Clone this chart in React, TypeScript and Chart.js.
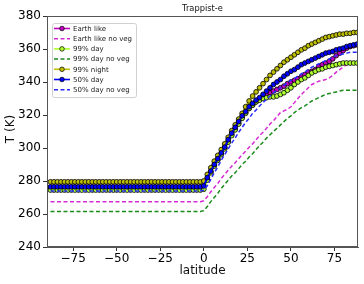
import { useEffect, useRef } from 'react';
import { Chart, registerables } from 'chart.js';

Chart.register(...registerables);

const FONT = "'DejaVu Sans', sans-serif";

const titleText = 'Trappist-e';
const xLabel = 'latitude';
const yLabel = 'T (K)';

const xTickValues = [-75, -50, -25, 0, 25, 50, 75];
const yTickValues = [240, 260, 280, 300, 320, 340, 360, 380];

const latitudes = [
  -88, -86, -84, -82, -80, -78, -76, -74, -72, -70, -68,
  -66, -64, -62, -60, -58, -56, -54, -52, -50, -48, -46,
  -44, -42, -40, -38, -36, -34, -32, -30, -28, -26, -24,
  -22, -20, -18, -16, -14, -12, -10, -8, -6, -4, -2,
  0,
  2, 4, 6, 8, 10, 12, 14, 16, 18, 20, 22,
  24, 26, 28, 30, 32, 34, 36, 38, 40, 42, 44,
  46, 48, 50, 52, 54, 56, 58, 60, 62, 64, 66,
  68, 70, 72, 74, 76, 78, 80, 82, 84, 86, 88,
];

const earthLike = [
  276, 276, 276, 276, 276, 276, 276, 276, 276, 276, 276,
  276, 276, 276, 276, 276, 276, 276, 276, 276, 276, 276,
  276, 276, 276, 276, 276, 276, 276, 276, 276, 276, 276,
  276, 276, 276, 276, 276, 276, 276, 276, 276, 276, 276,
  276.5,
  281, 285.5, 289.5, 293, 296.5, 300, 304, 308, 311.5, 315, 318.5,
  321.5, 324, 326, 328, 329.5, 331, 332.5, 333.5, 334.5, 335.5, 336.5,
  337.5, 339, 340, 341, 342, 343, 344.5, 346, 346.5, 347.5, 349.5,
  350.5, 351.5, 352.5, 354, 356, 357.5, 359, 360.5, 361.5, 362, 362.5,
];

const earthLikeNoVeg = [
  267.5, 267.5, 267.5, 267.5, 267.5, 267.5, 267.5, 267.5, 267.5, 267.5, 267.5,
  267.5, 267.5, 267.5, 267.5, 267.5, 267.5, 267.5, 267.5, 267.5, 267.5, 267.5,
  267.5, 267.5, 267.5, 267.5, 267.5, 267.5, 267.5, 267.5, 267.5, 267.5, 267.5,
  267.5, 267.5, 267.5, 267.5, 267.5, 267.5, 267.5, 267.5, 267.5, 267.5, 267.5,
  268,
  270.5, 273.5, 276, 278.5, 281.5, 284, 286.5, 289, 291, 293.5, 296,
  298, 300.5, 302.5, 305, 307.5, 309.5, 312, 314.5, 316.5, 319, 321.5,
  322.5, 323.5, 325, 327.5, 330, 332.5, 334.5, 336.5, 338.5, 339.5, 340.5,
  341, 341.5, 342.5, 344, 346, 347.5, 349, 350.5, 351.5, 352, 352,
];

const day99 = [
  274.5, 274.5, 274.5, 274.5, 274.5, 274.5, 274.5, 274.5, 274.5, 274.5, 274.5,
  274.5, 274.5, 274.5, 274.5, 274.5, 274.5, 274.5, 274.5, 274.5, 274.5, 274.5,
  274.5, 274.5, 274.5, 274.5, 274.5, 274.5, 274.5, 274.5, 274.5, 274.5, 274.5,
  274.5, 274.5, 274.5, 274.5, 274.5, 274.5, 274.5, 274.5, 274.5, 274.5, 274.5,
  275,
  280.5, 285, 289, 292.5, 296, 299.5, 303.5, 307.5, 311, 314.5, 318,
  321, 324, 326, 328, 329, 330, 330.5, 331, 331, 331.5, 332.5,
  333.5, 335, 336.5, 338.5, 340, 341.5, 342.5, 344, 345.5, 346.5, 347.5,
  348, 349, 349.5, 350, 350.5, 351, 351.5, 351.5, 351.5, 351.5, 351.5,
];

const day99NoVeg = [
  261.5, 261.5, 261.5, 261.5, 261.5, 261.5, 261.5, 261.5, 261.5, 261.5, 261.5,
  261.5, 261.5, 261.5, 261.5, 261.5, 261.5, 261.5, 261.5, 261.5, 261.5, 261.5,
  261.5, 261.5, 261.5, 261.5, 261.5, 261.5, 261.5, 261.5, 261.5, 261.5, 261.5,
  261.5, 261.5, 261.5, 261.5, 261.5, 261.5, 261.5, 261.5, 261.5, 261.5, 261.5,
  262,
  264.5, 267.5, 270, 272.5, 275.5, 278, 280.5, 283, 285, 287.5, 290,
  292, 294.5, 296.5, 299, 301.5, 303.5, 306, 308, 310, 312, 314,
  316, 318, 319.5, 321.5, 323, 324.5, 325.5, 327, 328.5, 329.5, 330.5,
  331.5, 332.5, 333, 333.5, 334, 334.5, 335, 335, 335, 335, 335,
];

const night99 = [
  279.5, 279.5, 279.5, 279.5, 279.5, 279.5, 279.5, 279.5, 279.5, 279.5, 279.5,
  279.5, 279.5, 279.5, 279.5, 279.5, 279.5, 279.5, 279.5, 279.5, 279.5, 279.5,
  279.5, 279.5, 279.5, 279.5, 279.5, 279.5, 279.5, 279.5, 279.5, 279.5, 279.5,
  279.5, 279.5, 279.5, 279.5, 279.5, 279.5, 279.5, 279.5, 279.5, 279.5, 279.5,
  280,
  284, 288, 292, 295.5, 299, 302.5, 306.5, 310.5, 314, 317.5, 321,
  325, 328.5, 331.5, 334, 336.5, 339, 341.5, 344, 346, 348, 350,
  352, 353.5, 355, 356.5, 358, 359.5, 360.5, 362, 363, 364, 365,
  366, 367, 367.5, 368, 368.5, 369, 369, 369.5, 369.5, 370, 370,
];

const day50 = [
  276.5, 276.5, 276.5, 276.5, 276.5, 276.5, 276.5, 276.5, 276.5, 276.5, 276.5,
  276.5, 276.5, 276.5, 276.5, 276.5, 276.5, 276.5, 276.5, 276.5, 276.5, 276.5,
  276.5, 276.5, 276.5, 276.5, 276.5, 276.5, 276.5, 276.5, 276.5, 276.5, 276.5,
  276.5, 276.5, 276.5, 276.5, 276.5, 276.5, 276.5, 276.5, 276.5, 276.5, 276.5,
  277,
  282, 286, 290, 293.5, 297, 300.5, 305, 309, 312.5, 316, 319.5,
  322, 325, 327, 329, 330.5, 332.5, 334.5, 336.5, 338.5, 340, 341.5,
  343.5, 345, 346.5, 347.5, 349, 350.5, 351.5, 352.5, 353.5, 354.5, 355.5,
  356.5, 357.5, 358, 358.5, 359.5, 360, 360.5, 361.5, 362, 362.5, 363,
];

const day50NoVeg = [
  274, 274, 274, 274, 274, 274, 274, 274, 274, 274, 274,
  274, 274, 274, 274, 274, 274, 274, 274, 274, 274, 274,
  274, 274, 274, 274, 274, 274, 274, 274, 274, 274, 274,
  274, 274, 274, 274, 274, 274, 274, 274, 274, 274, 274,
  274.5,
  277, 281, 285, 288.5, 292.5, 296, 299.5, 303, 306, 309.5, 312.5,
  315.5, 318, 321, 323, 325.5, 327.5, 329.5, 331.5, 333.5, 335, 336.5,
  338, 339.5, 341, 342, 343.5, 345, 346, 347.5, 349, 350, 351,
  352, 353, 354, 355, 356, 356.5, 357, 357.5, 358, 358, 358,
];

type SeriesDef = {
  label: string;
  values: number[];
  color: string;
  face: string;
  dashed: boolean;
  markers: boolean;
};

const series: SeriesDef[] = [
  { label: 'Earth like', values: earthLike, color: '#bf00bf', face: '#bf00bf', dashed: false, markers: true },
  { label: 'Earth like no veg', values: earthLikeNoVeg, color: '#d52bd5', face: '#d52bd5', dashed: true, markers: false },
  { label: '99% day', values: day99, color: '#adff2f', face: '#adff2f', dashed: false, markers: true },
  { label: '99% day no veg', values: day99NoVeg, color: '#1a8c1a', face: '#1a8c1a', dashed: true, markers: false },
  { label: '99% night', values: night99, color: '#bfbf00', face: '#bfbf00', dashed: false, markers: true },
  { label: '50% day', values: day50, color: '#0000ff', face: '#0000ff', dashed: false, markers: true },
  { label: '50% day no veg', values: day50NoVeg, color: '#2a2aff', face: '#2a2aff', dashed: true, markers: false },
];

const overlayPlugin = {
  id: 'overlay',
  afterDraw(chart: any) {
    const ctx = chart.ctx as CanvasRenderingContext2D;
    const a = chart.chartArea;
    ctx.save();
    ctx.strokeStyle = '#555';
    ctx.lineWidth = 1;
    ctx.strokeRect(a.left + 0.5, a.top + 0.5, a.right - a.left - 1, a.bottom - a.top - 1);
    ctx.fillStyle = '#111';
    ctx.font = `8.3px ${FONT}`;
    ctx.textAlign = 'center';
    ctx.textBaseline = 'middle';
    ctx.fillText(titleText, (a.left + a.right) / 2, 9);
    ctx.font = `12px ${FONT}`;
    ctx.fillText(xLabel, (a.left + a.right) / 2, 271);
    ctx.save();
    ctx.translate(10.5, 129);
    ctx.rotate(-Math.PI / 2);
    ctx.fillText(yLabel, 0, 0);
    ctx.restore();
    const bx = a.left + 5;
    const by = a.top + 7;
    const bw = 84;
    const bh = 74;
    ctx.fillStyle = 'rgba(255,255,255,0.85)';
    ctx.strokeStyle = '#d0d0d0';
    ctx.lineWidth = 1;
    ctx.beginPath();
    (ctx as any).roundRect ? (ctx as any).roundRect(bx + 0.5, by + 0.5, bw, bh, 2) : ctx.rect(bx + 0.5, by + 0.5, bw, bh);
    ctx.fill();
    ctx.stroke();
    series.forEach((s, i) => {
      const yy = by + 5.5 + i * 10.2;
      const x0 = bx + 2;
      const x1 = bx + 18;
      ctx.strokeStyle = s.color;
      ctx.lineWidth = s.dashed ? 1.5 : 1.6;
      ctx.setLineDash(s.dashed ? [4, 2.5] : []);
      ctx.beginPath();
      ctx.moveTo(x0, yy);
      ctx.lineTo(x1, yy);
      ctx.stroke();
      ctx.setLineDash([]);
      if (s.markers) {
        ctx.fillStyle = s.face;
        ctx.strokeStyle = '#000';
        ctx.lineWidth = 0.7;
        ctx.beginPath();
        ctx.arc((x0 + x1) / 2, yy, 2.3, 0, Math.PI * 2);
        ctx.fill();
        ctx.stroke();
      }
      ctx.fillStyle = '#222';
      ctx.font = `7px ${FONT}`;
      ctx.textAlign = 'left';
      ctx.textBaseline = 'middle';
      ctx.fillText(s.label, bx + 21, yy + 0.5);
    });
    ctx.restore();
  },
};

export default function App() {
  const ref = useRef<HTMLCanvasElement | null>(null);

  useEffect(() => {
    if (!ref.current) return;
    const n = series.length;
    const chart = new Chart(ref.current, {
      type: 'line',
      data: {
        datasets: series.map((s, i) => ({
          label: s.label,
          data: latitudes.map((x, j) => ({ x, y: s.values[j] })),
          borderColor: s.color,
          backgroundColor: s.face,
          borderWidth: s.dashed ? 1.5 : 2,
          borderDash: s.dashed ? [4, 2.5] : [],
          pointRadius: s.markers ? 2.4 : 0,
          pointHoverRadius: 0,
          pointBackgroundColor: s.face,
          pointBorderColor: '#000',
          pointBorderWidth: 0.8,
          tension: 0,
          fill: false,
          order: n - i,
        })),
      },
      options: {
        animation: false,
        responsive: false,
        maintainAspectRatio: false,
        events: [],
        layout: { padding: { top: 16, right: 6, left: 0, bottom: 0 } },
        plugins: {
          legend: { display: false },
          title: { display: false },
          tooltip: { enabled: false },
        },
        scales: {
          x: {
            type: 'linear',
            min: -90,
            max: 88.5,
            afterBuildTicks: (s: any) => {
              s.ticks = xTickValues.map((v) => ({ value: v }));
            },
            afterFit: (s: any) => {
              s.height = 37;
            },
            ticks: {
              color: '#000',
              font: { family: FONT, size: 12 },
              padding: 1,
              maxRotation: 0,
              autoSkip: false,
              callback: (v: any) => String(v).replace('-', '\u2212'),
            },
            grid: { drawOnChartArea: false, drawTicks: true, tickLength: 4, tickColor: '#333' },
            border: { color: '#555', width: 1 },
          },
          y: {
            type: 'linear',
            min: 240,
            max: 380,
            afterBuildTicks: (s: any) => {
              s.ticks = yTickValues.map((v) => ({ value: v }));
            },
            afterFit: (s: any) => {
              s.width = 47;
            },
            ticks: {
              color: '#000',
              font: { family: FONT, size: 12 },
              padding: 2,
              autoSkip: false,
            },
            grid: { drawOnChartArea: false, drawTicks: true, tickLength: 4, tickColor: '#333' },
            border: { color: '#555', width: 1 },
          },
        },
      },
      plugins: [overlayPlugin],
    });
    return () => chart.destroy();
  }, []);

  return (
    <div style={{ position: 'absolute', left: 0, top: 0, width: 364, height: 284, background: '#fff' }}>
      <canvas ref={ref} width={364} height={284} style={{ width: 364, height: 284, display: 'block' }} />
    </div>
  );
}
